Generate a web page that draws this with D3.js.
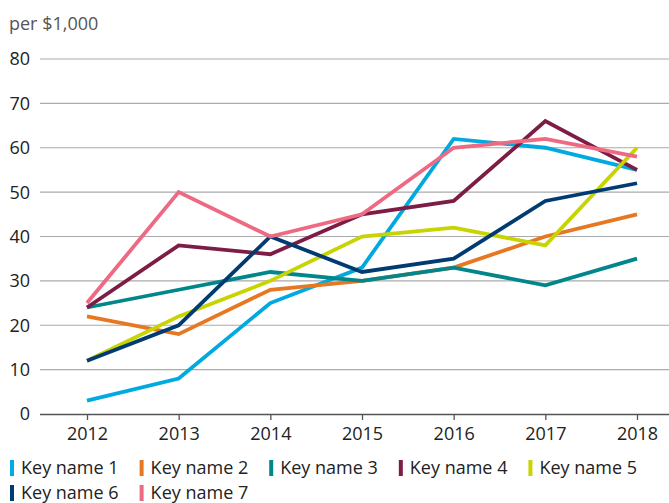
<!DOCTYPE html>
<html>
<head>
<meta charset="utf-8">
<script src="https://cdn.jsdelivr.net/npm/d3@7/dist/d3.min.js"></script>
<style>
  html, body { margin: 0; padding: 0; background: #fff; }
  svg { display: block; font-family: "Open Sans", "Noto Sans", sans-serif; }
</style>
</head>
<body>
<svg id="chart" width="669" height="503"></svg>
<script>
// Years along the x axis
const years = [2012, 2013, 2014, 2015, 2016, 2017, 2018];

// One array of values (per $1,000) per key
const keyName1 = [3, 8, 25, 33, 62, 60, 55];
const keyName2 = [22, 18, 28, 30, 33, 40, 45];
const keyName3 = [24, 28, 32, 30, 33, 29, 35];
const keyName4 = [24, 38, 36, 45, 48, 66, 55];
const keyName5 = [12, 22, 30, 40, 42, 38, 60];
const keyName6 = [12, 20, 40, 32, 35, 48, 52];
const keyName7 = [25, 50, 40, 45, 60, 62, 58];

const seriesNames = ["Key name 1", "Key name 2", "Key name 3", "Key name 4", "Key name 5", "Key name 6", "Key name 7"];
const seriesColors = ["#00a9e0", "#e87722", "#00868b", "#7d1c45", "#c8d400", "#003b71", "#ee6a83"];
const yTicks = [0, 10, 20, 30, 40, 50, 60, 70, 80];
const unitLabel = "per $1,000";

const series = [keyName1, keyName2, keyName3, keyName4, keyName5, keyName6, keyName7]
  .map((values, i) => ({ name: seriesNames[i], color: seriesColors[i], values }));

const svg = d3.select("#chart");
const W = 669;
const plotLeft = 40, plotRight = 669, plotTop = 59, plotBottom = 414;
const fontSize = 18;

const x = d3.scalePoint().domain(years).range([87, 637]);
const y = d3.scaleLinear().domain([0, 80]).range([plotBottom, plotTop]);

// Unit label
svg.append("text")
  .attr("x", 9).attr("y", 30)
  .attr("font-size", fontSize).attr("fill", "#555")
  .text(unitLabel);

// Horizontal gridlines and y labels
const yAxis = svg.append("g");
yAxis.selectAll("line.grid")
  .data(yTicks.filter(t => t > 0))
  .join("line")
  .attr("class", "grid")
  .attr("x1", plotLeft).attr("x2", plotRight)
  .attr("y1", d => y(d)).attr("y2", d => y(d))
  .attr("stroke", "#aaa").attr("stroke-width", 1.2);

yAxis.selectAll("text")
  .data(yTicks)
  .join("text")
  .attr("x", 30).attr("y", d => y(d))
  .attr("dy", "0.36em")
  .attr("text-anchor", "end")
  .attr("font-size", fontSize).attr("fill", "#222")
  .text(d => d);

// Bottom axis with ticks below the baseline
const xAxis = svg.append("g").attr("transform", `translate(0,${plotBottom})`)
  .call(d3.axisBottom(x).tickSize(6).tickPadding(7).tickFormat(d3.format("d")));
xAxis.select(".domain").attr("d", `M${plotLeft},0.5H${plotRight}`).attr("stroke", "#555").attr("stroke-width", 1.3);
xAxis.selectAll(".tick line").attr("stroke", "#555").attr("stroke-width", 1.3);
xAxis.selectAll(".tick text")
  .attr("font-size", fontSize).attr("fill", "#222")
  .attr("font-family", "'Open Sans', 'Noto Sans', sans-serif");

// Lines
const line = d3.line()
  .x((d, i) => x(years[i]))
  .y(d => y(d));

svg.append("g").selectAll("path")
  .data(series)
  .join("path")
  .attr("d", d => line(d.values))
  .attr("fill", "none")
  .attr("stroke", d => d.color)
  .attr("stroke-width", 3.8)
  .attr("stroke-linejoin", "miter");

// Legend: colour bar + label, wrapping onto a second row
const legend = svg.append("g");
let lx = 10, ly = 468;
const rowGap = 25, itemGap = 21, maxX = W - 4;
series.forEach(s => {
  const g = legend.append("g");
  const t = g.append("text")
    .attr("x", 11).attr("y", 0).attr("dy", "0.35em")
    .attr("font-size", fontSize).attr("fill", "#222")
    .text(s.name);
  const w = 11 + t.node().getComputedTextLength();
  if (lx + w > maxX) { lx = 10; ly += rowGap; }
  g.attr("transform", `translate(${lx},${ly})`);
  g.insert("rect", "text")
    .attr("x", 0).attr("y", -8).attr("width", 4).attr("height", 16)
    .attr("fill", s.color);
  lx += w + itemGap;
});
</script>
</body>
</html>
